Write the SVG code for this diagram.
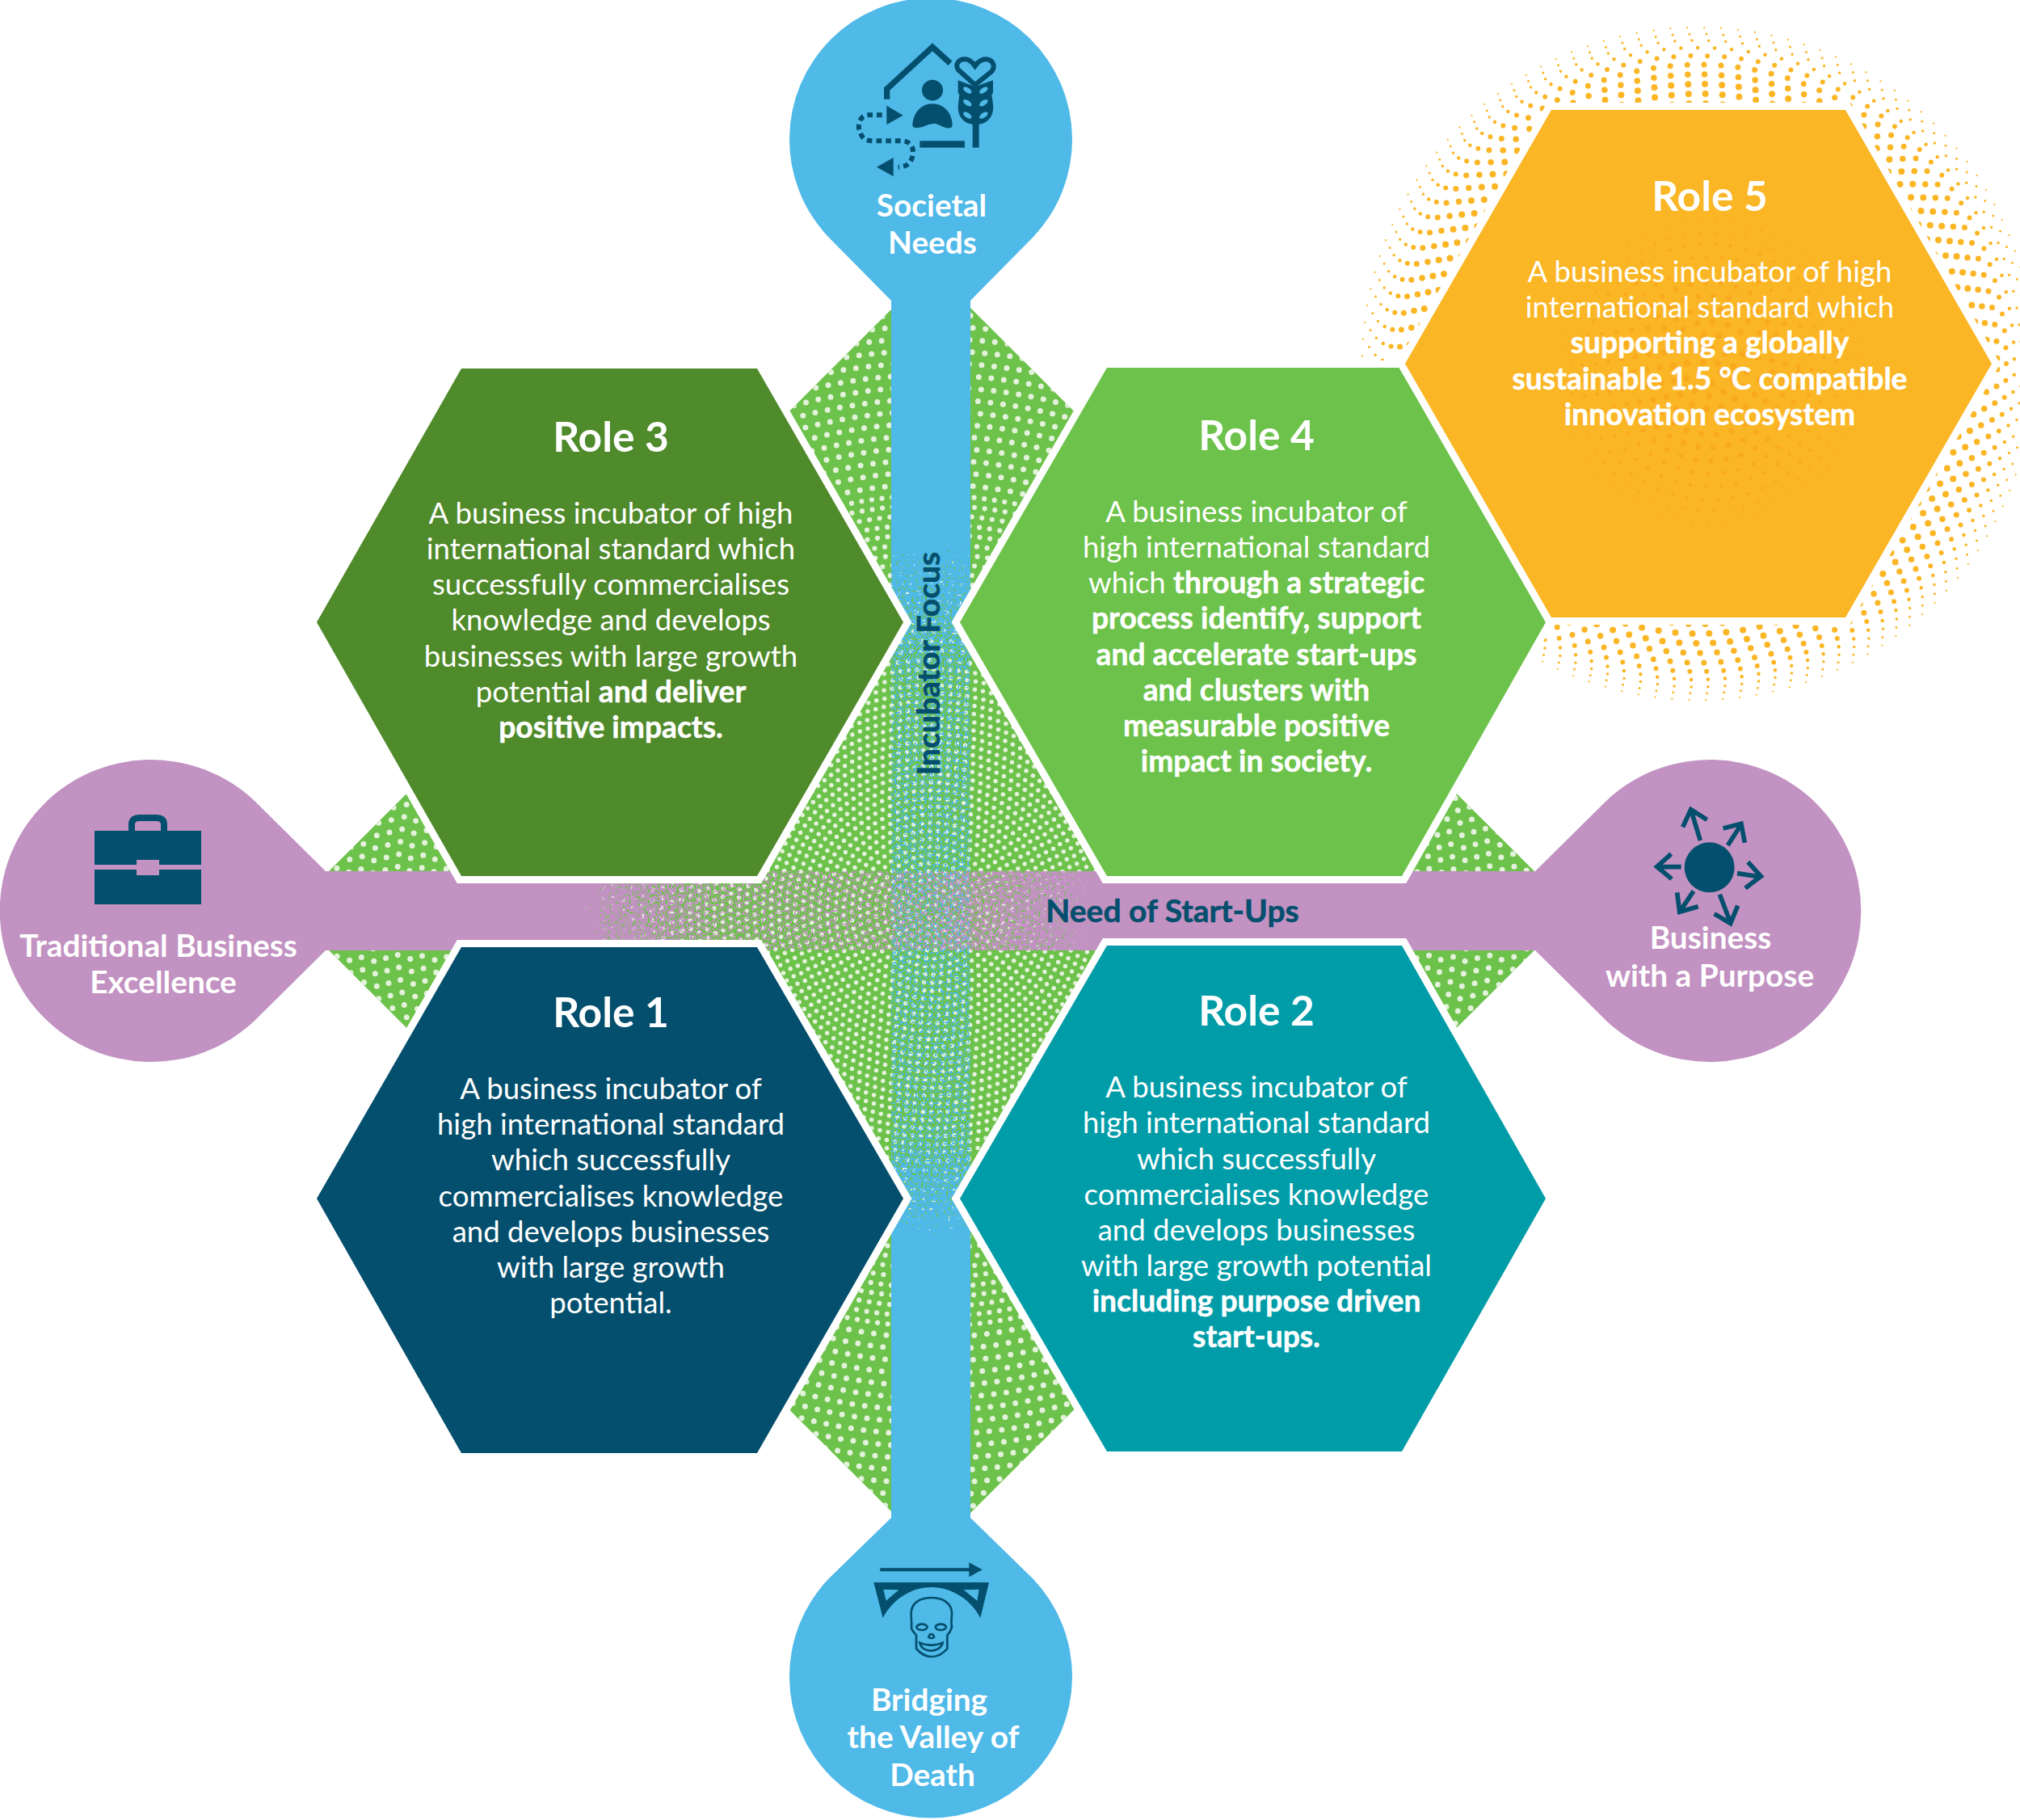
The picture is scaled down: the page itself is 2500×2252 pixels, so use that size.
<svg xmlns="http://www.w3.org/2000/svg" width="2500" height="2252" viewBox="0 0 2500 2252">
<style>
text{font-family:Lato,"Noto Sans",sans-serif;fill:#fff;text-anchor:middle}
.t{font-size:51.5px;font-weight:700}
.b{font-size:36.6px;font-weight:400}
.s{font-weight:700;font-size:37.2px;stroke:#fff;stroke-width:.5px}
.l{font-size:38.8px;font-weight:700}
.n{font-size:39px;font-weight:700;fill:#044f6d;stroke:#044f6d;stroke-width:.6px}
.hx{stroke:#fff;stroke-width:18;stroke-linejoin:miter;paint-order:stroke}
.dots circle{fill:none;stroke:#e4f1db;stroke-linecap:round}
.dots circle:nth-child(5n+1){stroke-dashoffset:3.7}
.dots circle:nth-child(5n+2){stroke-dashoffset:7.1}
.dots circle:nth-child(5n+3){stroke-dashoffset:1.9}
.dots circle:nth-child(5n+4){stroke-dashoffset:5.3}
.z1 circle{stroke-width:5.5;stroke-dasharray:0 10.3}
.z2 circle{stroke-width:6.2;stroke-dasharray:0 12.7}
.z3 circle{stroke-width:7;stroke-dasharray:0 15.6}
.or circle{fill:none;stroke:#fbb625;stroke-linecap:round;stroke-dasharray:0 21}
.or circle:nth-child(3n+1){stroke-dashoffset:7}
.or circle:nth-child(3n+2){stroke-dashoffset:14}
.inr circle{fill:none;stroke:#f9a91d;stroke-linecap:round;stroke-dasharray:0 19}
.inr circle:nth-child(even){stroke-dashoffset:9}
.ic{fill:#044f6d}
.il{fill:none;stroke:#044f6d}
</style>
<defs>
<clipPath id="dia"><polygon points="1153,333 1948,1127 1153,1920 358,1127"/></clipPath>
<linearGradient id="gb" gradientUnits="userSpaceOnUse" x1="0" y1="640" x2="0" y2="1580">
<stop offset="0" stop-opacity="1"/><stop offset=".05" stop-opacity=".72"/><stop offset=".22" stop-opacity=".47"/><stop offset=".8" stop-opacity=".47"/><stop offset=".92" stop-opacity=".68"/><stop offset="1" stop-opacity="1"/>
</linearGradient>
<linearGradient id="gm" gradientUnits="userSpaceOnUse" x1="680" y1="0" x2="1400" y2="0">
<stop offset="0" stop-opacity="1"/><stop offset=".1" stop-opacity=".66"/><stop offset=".3" stop-opacity=".47"/><stop offset=".65" stop-opacity=".47"/><stop offset=".9" stop-opacity=".7"/><stop offset="1" stop-opacity="1"/>
</linearGradient>
<filter id="sb" x="0" y="0" width="1" height="1" color-interpolation-filters="sRGB">
<feTurbulence type="fractalNoise" baseFrequency=".42" numOctaves="1" seed="7" result="n"/>
<feColorMatrix in="n" type="matrix" values="0 0 0 0 0 0 0 0 0 0 0 0 0 0 0 0 0 0 1 0" result="a"/>
<feComposite in="SourceAlpha" in2="a" operator="arithmetic" k1="0" k2="1" k3="1" k4="-1"/>
<feComponentTransfer result="m"><feFuncA type="linear" slope="25" intercept="0"/></feComponentTransfer>
<feFlood flood-color="#4fb9e8"/><feComposite in2="m" operator="in"/>
</filter>
<filter id="sm" x="0" y="0" width="1" height="1" color-interpolation-filters="sRGB">
<feTurbulence type="fractalNoise" baseFrequency=".42" numOctaves="1" seed="11" result="n"/>
<feColorMatrix in="n" type="matrix" values="0 0 0 0 0 0 0 0 0 0 0 0 0 0 0 0 0 0 1 0" result="a"/>
<feComposite in="SourceAlpha" in2="a" operator="arithmetic" k1="0" k2="1" k3="1" k4="-1"/>
<feComponentTransfer result="m"><feFuncA type="linear" slope="25" intercept="0"/></feComponentTransfer>
<feFlood flood-color="#c292c2"/><feComposite in2="m" operator="in"/>
</filter>
</defs>
<rect width="2500" height="2252" fill="#fff"/>

<g id="connectors">
<polygon points="1153,333 1948,1127 1153,1920 358,1127" fill="#6cc24a"/>
<g clip-path="url(#dia)"><g class="dots" transform="translate(1153 1127)">
<g class="z1"><circle r="9"/><circle r="19"/><circle r="29"/><circle r="39"/><circle r="49"/><circle r="59"/><circle r="69"/><circle r="79"/><circle r="89"/><circle r="99"/><circle r="109"/><circle r="119"/><circle r="129"/><circle r="139"/><circle r="149"/><circle r="159"/><circle r="169"/><circle r="179"/><circle r="189"/><circle r="199"/><circle r="209"/><circle r="219"/><circle r="229"/><circle r="239"/><circle r="249"/><circle r="259"/><circle r="269"/><circle r="279"/><circle r="289"/><circle r="299"/></g>
<g class="z2"><circle r="310"/><circle r="322"/><circle r="334"/><circle r="346"/><circle r="358"/><circle r="370"/><circle r="382"/><circle r="394"/><circle r="406"/><circle r="418"/><circle r="430"/><circle r="442"/><circle r="454"/><circle r="466"/><circle r="478"/><circle r="490"/><circle r="502"/><circle r="514"/></g>
<g class="z3"><circle r="528"/><circle r="543"/><circle r="558"/><circle r="573"/><circle r="588"/><circle r="603"/><circle r="618"/><circle r="633"/><circle r="648"/><circle r="663"/><circle r="678"/><circle r="693"/><circle r="708"/><circle r="723"/><circle r="738"/><circle r="753"/><circle r="768"/><circle r="783"/><circle r="798"/></g>
</g></g>
<rect x="1103" y="330" width="98" height="315" fill="#4fb9e8"/>
<rect x="1103" y="640" width="98" height="940" fill="url(#gb)" filter="url(#sb)"/>
<rect x="1103" y="1575" width="98" height="310" fill="#4fb9e8"/>
<rect x="400" y="1078" width="285" height="98" fill="#c292c2"/>
<rect x="680" y="1078" width="720" height="98" fill="url(#gm)" filter="url(#sm)"/>
<rect x="1395" y="1078" width="510" height="98" fill="#c292c2"/>
</g>

<g id="dots-role5">
<g class="or" transform="translate(2102 450)">
<circle r="322" stroke-width="8"/><circle r="334" stroke-width="8"/><circle r="346" stroke-width="8"/><circle r="358" stroke-width="7.5"/><circle r="370" stroke-width="7"/><circle r="381" stroke-width="6"/><circle r="391" stroke-width="4.5"/><circle r="400" stroke-width="3.5"/><circle r="408" stroke-width="3"/><circle r="416" stroke-width="2.2"/>
</g>
</g>

<g id="role3">
<polygon class="hx" fill="#4f8a2b" points="392,770 571,456 937,456 1118,770 937,1084 571,1084"/>
<text class="t" x="756" y="559">Role 3</text>
<text class="b" x="756" y="648">A business incubator of high</text>
<text class="b" x="756" y="692">international standard which</text>
<text class="b" x="756" y="736">successfully commercialises</text>
<text class="b" x="756" y="780">knowledge and develops</text>
<text class="b" x="756" y="825">businesses with large growth</text>
<text class="b" x="756" y="869">potential <tspan class="s">and deliver</tspan></text>
<text class="b s" x="756" y="913">positive impacts.</text>
</g>
<g id="role1">
<polygon class="hx" fill="#044f6d" points="392,1483 571,1172 937,1172 1118,1483 937,1798 571,1798"/>
<text class="t" x="756" y="1271">Role 1</text>
<text class="b" x="756" y="1360">A business incubator of</text>
<text class="b" x="756" y="1404">high international standard</text>
<text class="b" x="756" y="1448">which successfully</text>
<text class="b" x="756" y="1493">commercialises knowledge</text>
<text class="b" x="756" y="1537">and develops businesses</text>
<text class="b" x="756" y="1581">with large growth</text>
<text class="b" x="756" y="1625">potential.</text>
</g>
<g id="role2">
<polygon class="hx" fill="#009ca8" points="1188,1483 1370,1170 1735,1170 1913,1483 1735,1796 1370,1796"/>
<text class="t" x="1555" y="1269">Role 2</text>
<text class="b" x="1555" y="1358">A business incubator of</text>
<text class="b" x="1555" y="1402">high international standard</text>
<text class="b" x="1555" y="1447">which successfully</text>
<text class="b" x="1555" y="1491">commercialises knowledge</text>
<text class="b" x="1555" y="1535">and develops businesses</text>
<text class="b" x="1555" y="1579">with large growth potential</text>
<text class="b s" x="1555" y="1623">including purpose driven</text>
<text class="b s" x="1555" y="1667">start-ups.</text>
</g>
<g id="role4">
<polygon class="hx" fill="#6cc24a" points="1188,770 1370,455 1735,455 1913,770 1735,1084 1370,1084"/>
<text class="t" x="1555" y="557">Role 4</text>
<text class="b" x="1555" y="646">A business incubator of</text>
<text class="b" x="1555" y="690">high international standard</text>
<text class="b" x="1555" y="734">which <tspan class="s">through a strategic</tspan></text>
<text class="b s" x="1555" y="778">process identify, support</text>
<text class="b s" x="1555" y="823">and accelerate start-ups</text>
<text class="b s" x="1555" y="867">and clusters with</text>
<text class="b s" x="1555" y="911">measurable positive</text>
<text class="b s" x="1555" y="955">impact in society.</text>
</g>
<g id="role5">
<polygon class="hx" fill="#fbb625" points="1739,450 1920,136 2284,136 2465,450 2284,764 1920,764"/>
<g class="inr" transform="translate(2116 460)">
<circle r="14" stroke-width="8"/><circle r="30" stroke-width="8"/><circle r="46" stroke-width="8"/><circle r="62" stroke-width="7.5"/><circle r="78" stroke-width="7"/><circle r="94" stroke-width="7"/><circle r="110" stroke-width="6"/><circle r="126" stroke-width="5"/><circle r="142" stroke-width="4.5"/><circle r="158" stroke-width="4"/><circle r="172" stroke-width="3"/><circle r="186" stroke-width="2.5"/>
</g>
<text class="t" x="2116" y="261">Role 5</text>
<text class="b" x="2116" y="349">A business incubator of high</text>
<text class="b" x="2116" y="393">international standard which</text>
<text class="b s" x="2116" y="437">supporting a globally</text>
<text class="b s" x="2116" y="482">sustainable 1.5 °C compatible</text>
<text class="b s" x="2116" y="526">innovation ecosystem</text>
</g>

<g id="societal-needs">
<path fill="#4fb9e8" d="M1103,372L1026,294A175,175 0 1 1 1278,294L1201,372Z"/>
<g transform="translate(950 0) scale(.33333)">
<path class="il" stroke-width="22" d="M443,368V330L612,175L678,235"/>
<circle class="ic" cx="612" cy="335" r="39"/>
<path class="ic" d="M538,465C540,420 570,385 612,385C655,385 686,420 686,465C686,480 660,478 640,465C610,448 590,470 560,474C545,476 538,472 538,465Z"/>
<rect class="ic" x="565" y="523" width="167" height="25"/>
<path class="il" stroke-width="18" stroke-dasharray="20 15" d="M425,427H375C340,427 330,470 345,495C355,520 370,523 400,523H500C530,523 550,550 535,590C525,615 505,620 485,620"/>
<polygon class="ic" points="442,392 503,428 442,463"/>
<polygon class="ic" points="467,585 405,620 467,655"/>
<rect class="ic" x="761" y="430" width="24" height="118"/>
<path class="ic" d="M707,298L770,322L837,298V345L832,350L838,395C838,440 810,462 773,462C735,462 707,440 707,395L712,350L707,345Z"/>
<path fill="#4fb9e8" stroke="#044f6d" stroke-width="18" d="M770,315L707,258C695,238 710,218 735,220C755,222 765,238 770,245C775,238 790,220 810,220C835,220 848,245 832,265Z"/>
<g fill="#4fb9e8">
<ellipse cx="742" cy="335" rx="18" ry="9" transform="rotate(35 742 335)"/><ellipse cx="802" cy="335" rx="18" ry="9" transform="rotate(-35 802 335)"/>
<ellipse cx="742" cy="382" rx="18" ry="9" transform="rotate(35 742 382)"/><ellipse cx="802" cy="382" rx="18" ry="9" transform="rotate(-35 802 382)"/>
<ellipse cx="742" cy="428" rx="18" ry="9" transform="rotate(35 742 428)"/><ellipse cx="802" cy="428" rx="18" ry="9" transform="rotate(-35 802 428)"/>
</g>
</g>
<text class="l" x="1153" y="268">Societal</text>
<text class="l" x="1154" y="314">Needs</text>
</g>

<g id="bridging">
<path fill="#4fb9e8" d="M1103,1878L1026,1953A175,175 0 1 0 1278,1953L1201,1878Z"/>
<g transform="translate(950 1850) scale(.33333)">
<path class="il" stroke-width="12" d="M418,277H752"/>
<polygon class="ic" points="748,250 797,277 748,304"/>
<path class="ic" d="M394,324H822L790,456C760,395 690,342 608,342C525,342 460,395 428,456Z"/>
<polygon fill="#4fb9e8" points="430,350 487,352 440,392"/>
<polygon fill="#4fb9e8" points="785,350 728,352 778,392"/>
<path class="il" stroke-width="8" d="M608,381C565,381 533,400 533,440C533,465 536,480 534,495C540,510 550,515 552,520V570C570,590 590,600 608,600C628,600 650,590 667,570V520C672,515 680,505 684,490C680,470 684,460 684,440C684,400 650,381 608,381Z"/>
<ellipse class="il" stroke-width="8" cx="573" cy="490" rx="20" ry="11"/>
<ellipse class="il" stroke-width="8" cx="643" cy="490" rx="20" ry="11"/>
<path class="il" stroke-width="8" d="M598,528C600,512 616,512 618,528C616,532 600,532 598,528Z"/>
<path class="il" stroke-width="8" d="M565,548C590,560 625,560 650,548C645,570 620,578 608,578C590,578 570,570 565,548Z"/>
</g>
<text class="l" x="1150" y="2117">Bridging</text>
<text class="l" x="1155" y="2163">the Valley of</text>
<text class="l" x="1154" y="2210">Death</text>
</g>

<g id="traditional">
<path fill="#c292c2" d="M403,1078L314,990A187,187 0 1 0 314,1264L403,1176Z"/>
<rect class="ic" x="117" y="1028" width="132" height="42"/>
<rect class="ic" x="117" y="1076" width="132" height="43"/>
<rect fill="#c292c2" x="169" y="1064" width="28" height="19"/>
<path class="il" stroke-width="8" d="M163,1028V1020C163,1014 167,1012 172,1012H194C199,1012 203,1014 203,1020V1028"/>
<text class="l" x="196" y="1184">Traditional Business</text>
<text class="l" x="202" y="1229">Excellence</text>
</g>

<g id="purpose">
<path fill="#c292c2" d="M1900,1078L1989,990A187,187 0 1 1 1989,1264L1900,1176Z"/>
<g transform="translate(1850 920) scale(.33333)">
<circle class="ic" cx="797" cy="460" r="93"/>
<path class="il" stroke-width="17" d="M763,360L728,245M698,310L728,245L788,283M865,378L915,300M848,315L915,298L928,368M900,482L985,495M940,440L988,493L930,537M835,560L875,665M815,632L875,668L902,602M738,548L688,622M677,553L686,625L755,605M692,458L605,457M655,410L602,457L657,503"/>
</g>
<text class="l" x="2117" y="1174">Business</text>
<text class="l" x="2116" y="1221">with a Purpose</text>
</g>

<text class="n" transform="translate(1163 821) rotate(-90)">Incubator Focus</text>
<text class="n" x="1451" y="1141">Need of Start-Ups</text>
</svg>
